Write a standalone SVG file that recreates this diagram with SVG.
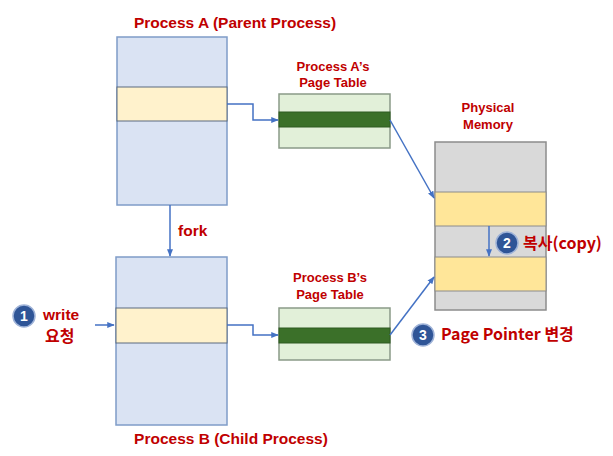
<svg xmlns="http://www.w3.org/2000/svg" width="613" height="456" viewBox="0 0 613 456">
<style>
.t{font-family:"Liberation Sans","Noto Sans CJK KR",sans-serif;font-weight:bold;fill:#c00000;font-size:15.5px;}
.s{font-size:13px;}
.k{font-family:"Noto Sans CJK KR","Liberation Sans",sans-serif;font-weight:bold;fill:#c00000;font-size:16px;}
.proc{fill:#dae3f3;stroke:#7f9cc8;stroke-width:1.5;}
.band{fill:#fff2cc;stroke:#5a6a80;stroke-width:1;}
.pt{fill:#e2f0d9;stroke:#8a9a88;stroke-width:1.5;}
.ptd{fill:#3b7029;stroke:#2f5a22;stroke-width:1;}
.mem{fill:#d9d9d9;stroke:#8c8c8c;stroke-width:1.5;}
.memy{fill:#ffe699;stroke:#8c8c8c;stroke-width:1;}
.c{fill:none;stroke:#4472c4;stroke-width:1.5;marker-end:url(#ah);}
.num{fill:#2f5597;stroke:#9fb3d8;stroke-width:1.5;}
.nt{font-family:"Liberation Sans",sans-serif;font-weight:bold;fill:#fff;font-size:14px;}
</style>
<defs>
<marker id="ah" viewBox="0 0 10 10" refX="9" refY="5" markerWidth="5" markerHeight="5" orient="auto">
<path d="M0,1 L10,5 L0,9 z" fill="#4472c4"/>
</marker>
</defs>
<rect width="613" height="456" fill="#fff"/>

<g id="processA">
<rect class="proc" x="117" y="37" width="110" height="168"/>
<rect class="band" x="117" y="87" width="110" height="34"/>
<text class="t" x="235" y="28" text-anchor="middle">Process A (Parent Process)</text>
</g>

<g id="processB">
<rect class="proc" x="116" y="257" width="111" height="168"/>
<rect class="band" x="116" y="308" width="111" height="35"/>
<text class="t" x="231" y="444" text-anchor="middle">Process B (Child Process)</text>
</g>

<g id="pageTableA">
<rect class="pt" x="279" y="94" width="111" height="54"/>
<rect class="ptd" x="279" y="112" width="111" height="15"/>
<text class="t s" x="333" y="71" text-anchor="middle">Process A’s</text>
<text class="t s" x="333" y="87" text-anchor="middle">Page Table</text>
</g>

<g id="pageTableB">
<rect class="pt" x="279" y="308" width="111" height="52"/>
<rect class="ptd" x="279" y="328" width="111" height="15"/>
<text class="t s" x="330" y="282" text-anchor="middle">Process B’s</text>
<text class="t s" x="330" y="299" text-anchor="middle">Page Table</text>
</g>

<g id="physicalMemory">
<rect class="mem" x="435" y="142" width="111" height="168"/>
<rect class="memy" x="435" y="192" width="111" height="34"/>
<rect class="memy" x="435" y="257" width="111" height="34"/>
<text class="t s" x="488" y="112" text-anchor="middle">Physical</text>
<text class="t s" x="488" y="129" text-anchor="middle">Memory</text>
</g>

<g id="step1">
<circle class="num" cx="24" cy="316" r="11"/>
<text class="nt" x="24" y="321" text-anchor="middle">1</text>
<text class="t" x="43" y="320" font-size="16">write</text>
<text class="k" x="45" y="342" font-size="15">요청</text>
</g>

<g id="step2">
<circle class="num" cx="507" cy="243" r="11"/>
<text class="nt" x="507" y="248" text-anchor="middle">2</text>
<text class="k" x="523" y="249">복사(copy)</text>
</g>

<g id="step3">
<circle class="num" cx="423" cy="335" r="11"/>
<text class="nt" x="423" y="340" text-anchor="middle">3</text>
<text class="k" x="441" y="340">Page Pointer 변경</text>
</g>

<g id="forkLabel">
<text class="t" x="178" y="236">fork</text>
</g>

<g id="connectors">
<path class="c" d="M227,104 H253 V120 H278"/>
<path class="c" d="M227,325 H253 V335 H278"/>
<path class="c" d="M170,205 V256"/>
<path class="c" d="M95,325 H114"/>
<path class="c" d="M390,120 L434,198"/>
<path class="c" d="M390,335 L434,277"/>
<path class="c" d="M489,226 V256"/>
</g>
</svg>
